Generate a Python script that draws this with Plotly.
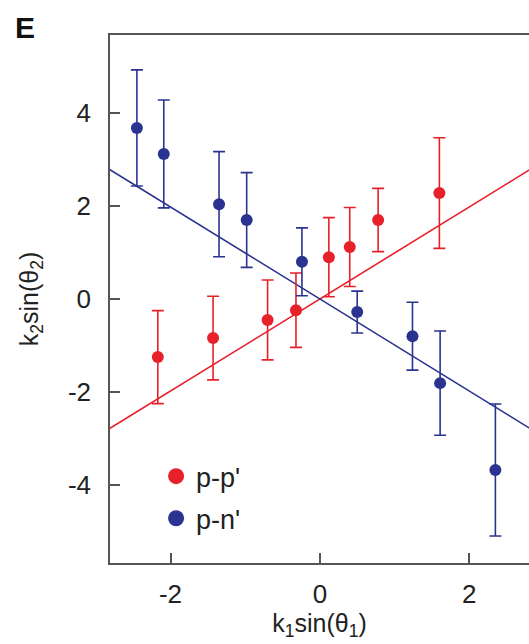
import plotly.graph_objects as go

# p-p' pairs
pp_x = [-2.17, -1.43, -0.70, -0.32, 0.12, 0.40, 0.78, 1.60]
pp_y = [-1.25, -0.84, -0.45, -0.24, 0.90, 1.12, 1.70, 2.28]
pp_err = [1.00, 0.90, 0.86, 0.80, 0.85, 0.85, 0.68, 1.19]

# p-n' pairs
pn_x = [-2.45, -2.09, -1.35, -0.98, -0.24, 0.50, 1.24, 1.61, 2.35]
pn_y = [3.68, 3.12, 2.04, 1.70, 0.80, -0.28, -0.80, -1.81, -3.68]
pn_err = [1.25, 1.16, 1.13, 1.02, 0.73, 0.45, 0.73, 1.12, 1.42]

# fitted slopes of the straight lines through the origin
fit_slopes = {"pp": 0.99, "pn": -0.99}
fit_x = [-3.0, 3.0]

# axis ticks
x_ticks = [-2, 0, 2]
x_ticklabels = ["-2", "0", "2"]
y_ticks = [-4, -2, 0, 2, 4]
y_ticklabels = ["-4", "-2", "0", "2", "4"]

RED = "#e8202a"
BLUE = "#2b3391"
FONT = "Liberation Sans, Arial, sans-serif"
TXT = "#222222"

fig = go.Figure()

fig.add_trace(go.Scatter(
    x=fit_x, y=[fit_slopes["pp"] * v for v in fit_x], mode="lines",
    line=dict(color=RED, width=1.6), showlegend=False, hoverinfo="skip"))
fig.add_trace(go.Scatter(
    x=fit_x, y=[fit_slopes["pn"] * v for v in fit_x], mode="lines",
    line=dict(color=BLUE, width=1.6), showlegend=False, hoverinfo="skip"))

fig.add_trace(go.Scatter(
    x=pp_x, y=pp_y, mode="markers", name="p-p'", showlegend=False,
    marker=dict(color=RED, size=12),
    error_y=dict(type="data", array=pp_err, color=RED, thickness=1.6, width=6)))
fig.add_trace(go.Scatter(
    x=pn_x, y=pn_y, mode="markers", name="p-n'", showlegend=False,
    marker=dict(color=BLUE, size=12),
    error_y=dict(type="data", array=pn_err, color=BLUE, thickness=1.6, width=6)))

# legend entries with larger symbols
fig.add_trace(go.Scatter(
    x=[None], y=[None], mode="markers", name="p-p'", legendgroup="a",
    marker=dict(color=RED, size=17)))
fig.add_trace(go.Scatter(
    x=[None], y=[None], mode="markers", name="p-n'", legendgroup="b",
    marker=dict(color=BLUE, size=17)))

axis_common = dict(
    showgrid=False, zeroline=False, showline=True, linecolor="#555555",
    linewidth=1.6, ticks="inside", ticklen=10, tickwidth=1.6,
    tickcolor="#555555", tickfont=dict(family=FONT, size=26, color=TXT),
)

fig.update_xaxes(
    range=[-2.81, 2.80], tickvals=x_ticks, ticktext=x_ticklabels, mirror=True,
    ticklabelstandoff=7,
    title=dict(text="k<sub>1</sub>sin(θ<sub>1</sub>)",
               font=dict(family=FONT, size=25, color=TXT), standoff=4),
    **axis_common)
fig.update_yaxes(
    range=[-5.68, 5.68], tickvals=y_ticks, ticktext=y_ticklabels, mirror=False,
    ticklabelstandoff=12,
    title=dict(text="k<sub>2</sub>sin(θ<sub>2</sub>)",
               font=dict(family=FONT, size=25, color=TXT), standoff=22),
    **axis_common)

fig.add_annotation(
    text="<b>E</b>", x=-0.232, y=1.05, xref="paper", yref="paper",
    xanchor="left", yanchor="top", showarrow=False,
    font=dict(family=FONT, size=30, color="#111111"))

fig.update_layout(
    width=529, height=644,
    margin=dict(l=110, r=0, t=35, b=81),
    paper_bgcolor="white", plot_bgcolor="white",
    legend=dict(x=0.11, y=0.21, xanchor="left", yanchor="top",
                font=dict(family=FONT, size=27, color=TXT),
                bgcolor="rgba(0,0,0,0)", traceorder="grouped",
                tracegroupgap=4, itemwidth=30),
)

fig.write_html("out.html")
